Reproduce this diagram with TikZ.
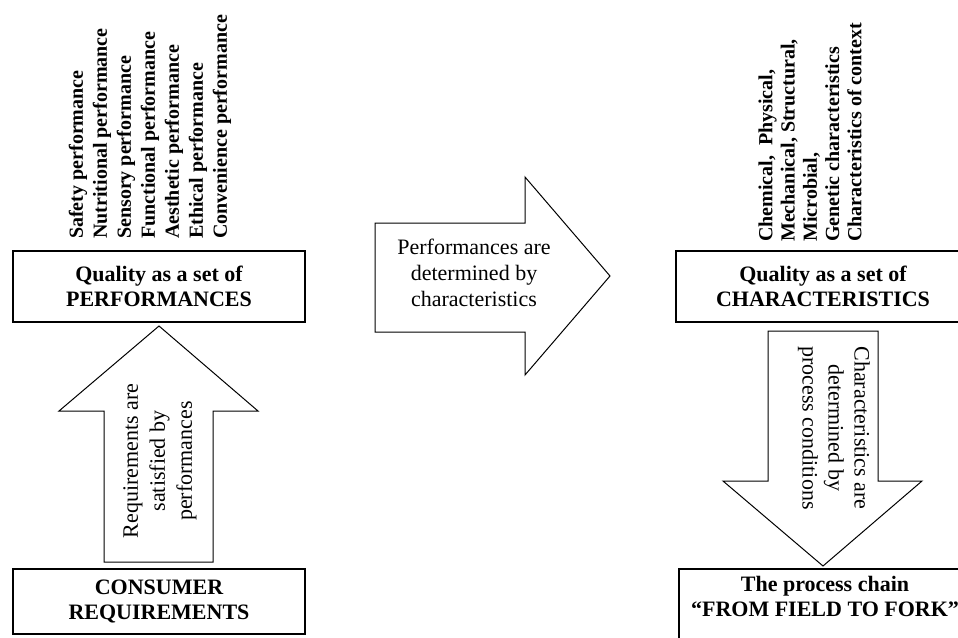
\documentclass[tikz,border=0pt]{standalone}
\usepackage{fontspec}
\setmainfont{Liberation Serif}
\begin{document}
\begin{tikzpicture}[x=1pt,y=-1pt,
  box/.style={draw, line width=1.3pt, minimum width=292pt, minimum height=71pt,
    align=center, inner sep=0pt, font=\bfseries\fontsize{22}{25}\selectfont},
  boxtext/.style={align=center, inner sep=0pt, font=\bfseries\fontsize{22}{25}\selectfont},
  frame/.style={draw, line width=1.3pt},
  bigarrow/.style={draw, line width=1pt, line join=miter},
  arrowtext/.style={align=center, inner sep=0pt, font=\fontsize{22}{26}\selectfont},
  vlist/.style={rotate=90, anchor=west, align=left, inner sep=0pt,
    font=\bfseries\fontsize{20}{24}\selectfont}]
\useasboundingbox (0,0) rectangle (958,637);

% boxes
\node[box] (perf) at (159,286.5) {Quality as a set of\\PERFORMANCES};
\node[box, minimum height=65pt] (cons) at (159,601.5) {CONSUMER\\REQUIREMENTS};
\node[box, minimum width=294pt] (char) at (823,286.5) {Quality as a set of\\CHARACTERISTICS};
\node[boxtext] (chain) at (825,596) {The process chain\\``FROM FIELD TO FORK''};
\draw[frame] (679,569) rectangle (972,650);

% lists of performances and characteristics
\node[vlist] (perflist) at (150,239) {Safety performance\\Nutritional performance\\Sensory performance\\Functional performance\\Aesthetic performance\\Ethical performance\\Convenience performance};
\node[vlist, font=\bfseries\fontsize{20}{22.3}\selectfont] (charlist) at (810,242)
  {Chemical,\enspace Physical,\\Mechanical, Structural,\\Microbial,\\Genetic characteristics\\Characteristics of context};

% block arrows
\draw[bigarrow] (104,562) -- (104,411) -- (59,411) -- (159,326) -- (258,411)
  -- (213,411) -- (213,562) -- cycle;
\node[arrowtext, rotate=90, font=\fontsize{22}{27}\selectfont] (req) at (160,461)
  {Requirements are\\satisfied by\\performances};

\draw[bigarrow] (375,223) -- (525,223) -- (525,177) -- (610,276) -- (525,375)
  -- (525,332) -- (375,332) -- cycle;
\node[arrowtext] (det) at (474,273) {Performances are\\determined by\\characteristics};

\draw[bigarrow] (768,331) -- (878,331) -- (878,481) -- (922,481) -- (823,566)
  -- (723,481) -- (768,481) -- cycle;
\node[arrowtext, rotate=-90, font=\fontsize{22}{26}\selectfont] (proc) at (834,428)
  {Characteristics are\\determined by\\process conditions};
\end{tikzpicture}
\end{document}
